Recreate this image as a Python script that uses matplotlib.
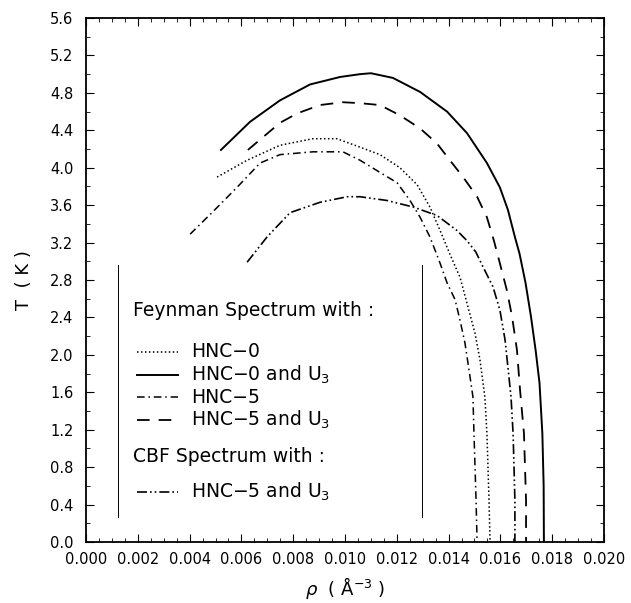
import matplotlib
matplotlib.use("Agg")
import matplotlib.pyplot as plt
from matplotlib.ticker import MultipleLocator

# HNC-0 (Feynman spectrum)
rho_hnc0 = [0.00506, 0.00622, 0.00749, 0.00876, 0.00969, 0.01058, 0.01135, 0.01212,
            0.01278, 0.01328, 0.01367, 0.01409, 0.01444, 0.01475, 0.01502, 0.01521,
            0.0154, 0.01548, 0.01556, 0.0156]
t_hnc0 = [3.90, 4.08, 4.24, 4.31, 4.31, 4.22, 4.14, 4.00,
          3.82, 3.58, 3.33, 3.05, 2.83, 2.51, 2.23, 1.95, 1.55, 1.16, 0.45, 0.0]

# HNC-0 and U3
rho_hnc0_u3 = [0.00521, 0.00633, 0.00749, 0.00865, 0.00981, 0.01058, 0.0110, 0.01185,
               0.0129, 0.01394, 0.01471, 0.01548, 0.01598, 0.01629, 0.01656, 0.01674,
               0.01697, 0.01718, 0.01736, 0.01751, 0.01762, 0.01767, 0.01768]
t_hnc0_u3 = [4.19, 4.49, 4.72, 4.89, 4.97, 5.00, 5.01, 4.96,
             4.81, 4.60, 4.37, 4.05, 3.79, 3.55, 3.26, 3.08,
             2.77, 2.41, 2.05, 1.70, 1.16, 0.60, 0.0]

# HNC-5
rho_hnc5 = [0.00402, 0.0049, 0.00583, 0.00672, 0.00749, 0.00876, 0.00992, 0.01058,
            0.01135, 0.01201, 0.01251, 0.0129, 0.01328, 0.01367, 0.01394, 0.01425,
            0.01444, 0.01463, 0.01483, 0.01494, 0.01498, 0.01506, 0.0151]
t_hnc5 = [3.29, 3.53, 3.79, 4.05, 4.14, 4.17, 4.17, 4.08,
          3.95, 3.84, 3.65, 3.47, 3.26, 2.98, 2.77, 2.59,
          2.37, 2.13, 1.76, 1.55, 1.16, 0.45, 0.0]

# HNC-5 and U3
rho_hnc5_u3 = [0.00625, 0.00749, 0.00815, 0.00903, 0.00992, 0.01058, 0.01135, 0.01212,
               0.0129, 0.01355, 0.01405, 0.01456, 0.0151, 0.01548, 0.01575, 0.01596,
               0.01625, 0.01645, 0.01664, 0.01676, 0.01691, 0.01699, 0.01699]
t_hnc5_u3 = [4.19, 4.48, 4.58, 4.67, 4.70, 4.69, 4.67, 4.56,
             4.42, 4.26, 4.08, 3.90, 3.69, 3.47, 3.22, 3.00,
             2.69, 2.41, 2.05, 1.62, 1.16, 0.45, 0.0]

# CBF spectrum, HNC-5 and U3
rho_cbf = [0.00622, 0.00699, 0.00788, 0.00903, 0.01008, 0.01058, 0.01162, 0.01263,
           0.01355, 0.01432, 0.01471, 0.01505, 0.01533, 0.01571, 0.01598, 0.01618,
           0.01629, 0.01641, 0.01649, 0.01656, 0.01656]
t_cbf = [2.99, 3.26, 3.52, 3.63, 3.69, 3.69, 3.65, 3.58,
         3.49, 3.33, 3.22, 3.10, 2.94, 2.73, 2.48, 2.16,
         1.87, 1.55, 1.16, 0.45, 0.0]

styles = {
    "hnc0": dict(linestyle=(0, (1, 1.6)), linewidth=1.1),
    "hnc0_u3": dict(linestyle="-", linewidth=1.4),
    "hnc5": dict(linestyle=(0, (5, 2.5, 1, 2.5)), linewidth=1.1),
    "hnc5_u3": dict(linestyle=(0, (7, 5)), linewidth=1.3),
    "cbf": dict(linestyle=(0, (6, 1.8, 1, 1.8, 1, 1.8)), linewidth=1.2),
}

fig = plt.figure(figsize=(6.31, 6.03), dpi=100)
ax = fig.add_axes([0.1363, 0.1012, 0.8209, 0.8689])

ax.plot(rho_hnc0, t_hnc0, color="black", **styles["hnc0"])
ax.plot(rho_hnc0_u3, t_hnc0_u3, color="black", **styles["hnc0_u3"])
ax.plot(rho_hnc5, t_hnc5, color="black", **styles["hnc5"])
ax.plot(rho_hnc5_u3, t_hnc5_u3, color="black", **styles["hnc5_u3"])
ax.plot(rho_cbf, t_cbf, color="black", **styles["cbf"])

ax.set_xlim(0.0, 0.020)
ax.set_ylim(0.0, 5.6)
ax.xaxis.set_major_locator(MultipleLocator(0.002))
ax.xaxis.set_minor_locator(MultipleLocator(0.0005))
ax.yaxis.set_major_locator(MultipleLocator(0.4))
ax.yaxis.set_minor_locator(MultipleLocator(0.2))
ax.xaxis.set_major_formatter(plt.FormatStrFormatter("%.3f"))
ax.yaxis.set_major_formatter(plt.FormatStrFormatter("%.1f"))
ax.tick_params(which="both", direction="in", top=True, right=True, labelsize=10.5)
ax.tick_params(which="major", length=6, width=0.8)
ax.tick_params(which="minor", length=3, width=0.6)
ax.tick_params(axis="x", pad=7)
ax.tick_params(axis="y", pad=9)
for sp in ax.spines.values():
    sp.set_linewidth(1.3)

ax.set_xlabel(r"$\rho$  ( Å$^{-3}$ )", fontsize=13, labelpad=6)
ax.set_ylabel("T  ( K )", fontsize=13, labelpad=12)

# hand-made legend box (vertical bars only)
tr = ax.transAxes
for xb in (0.0618, 0.6486):
    ax.plot([xb, xb], [0.0477, 0.5286], transform=tr, color="black", linewidth=0.7)

fs = 13.5
ax.text(0.0907, 0.4427, "Feynman Spectrum with :", transform=tr, fontsize=fs, va="center")
ax.text(0.0907, 0.1622, "CBF Spectrum with :", transform=tr, fontsize=fs, va="center")

entries = [
    ("hnc0", "HNC−0", 0.3626),
    ("hnc0_u3", "HNC−0 and U$_3$", 0.3187),
    ("hnc5", "HNC−5", 0.2767),
    ("hnc5_u3", "HNC−5 and U$_3$", 0.2328),
    ("cbf", "HNC−5 and U$_3$", 0.0954),
]
for key, label, yy in entries:
    ax.plot([0.0985, 0.1776], [yy, yy], transform=tr, color="black", **styles[key])
    ax.text(0.2030, yy, label, transform=tr, fontsize=fs, va="center")

fig.savefig("out.png", dpi=100)
